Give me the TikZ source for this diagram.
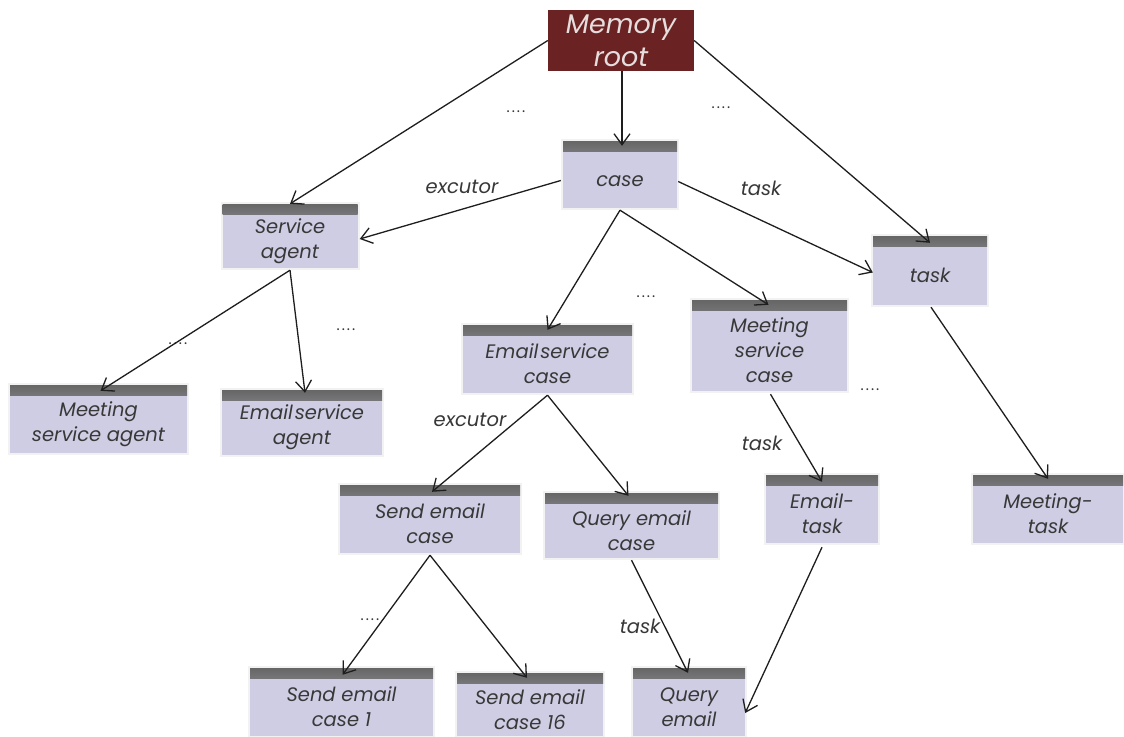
\documentclass[tikz,border=0pt]{standalone}
\usepackage{fontspec}
\setmainfont{Poppins}
\usetikzlibrary{arrows.meta,calc}
\definecolor{boxfill}{HTML}{CFCDE4}
\definecolor{rootfill}{HTML}{6B2222}
\definecolor{roottext}{HTML}{E6DEDE}
\definecolor{txt}{HTML}{383838}
\definecolor{ln}{HTML}{1E1E1E}
\newcommand\firstline{\rule{0pt}{25pt}}
\newcommand\fourdots{.\kern2pt.\kern2pt.\kern2pt.}
\begin{document}
\begin{tikzpicture}[x=1pt,y=-1pt,
  box/.style={rectangle, fill=boxfill, text=txt, align=center, inner sep=0pt,
    font=\itshape\fontsize{19.5}{25}\selectfont,
    preaction={draw=black!5, line width=4pt},
    path picture={\shade[top color=black!60, bottom color=boxfill]
      (path picture bounding box.north west) rectangle
      ([yshift=-10pt]path picture bounding box.north east);}},
  rootbox/.style={rectangle, fill=rootfill, text=roottext, align=center, inner sep=0pt,
    font=\itshape\fontsize{27}{33}\selectfont},
  lbl/.style={text=txt, font=\itshape\fontsize{19.5}{22}\selectfont, inner sep=0pt},
  dotlbl/.style={text=txt, font=\fontsize{15}{18}\selectfont, inner sep=0pt},
  arr/.style={draw=ln, line width=1.3pt, -{Straight Barb[length=11pt,width=16pt,line width=1.3pt]}}
]
\fill[white] (0,0) rectangle (1124,736);
\useasboundingbox (0,0) rectangle (1124,736);

% nodes
\node[rootbox, minimum width=146, minimum height=61] (root) at (621,40.5) {Memory\\root};
\node[box, minimum width=114, minimum height=67] (case) at (620,174.5) {\firstline case};
\node[box, minimum width=135, minimum height=64] (sa) at (290,236) {\firstline Service\\agent};
\node[box, minimum width=114, minimum height=69] (task) at (930,270.5) {\firstline task};
\node[box, minimum width=169, minimum height=68] (emc) at (547.5,359) {\firstline Email\kern0.1em service\\case};
\node[box, minimum width=155, minimum height=91] (msc) at (769.5,345.5) {\firstline Meeting\\service\\case};
\node[box, minimum width=177, minimum height=68] (msa) at (98.5,419) {\firstline Meeting\\service agent};
\node[box, minimum width=160, minimum height=65] (esa) at (302,422.5) {\firstline Email\kern0.1em service\\agent};
\node[box, minimum width=180, minimum height=68] (sec) at (430,519) {\firstline Send email\\case};
\node[box, minimum width=173, minimum height=65] (qec) at (631.5,525.5) {\firstline Query email\\case};
\node[box, minimum width=112, minimum height=68] (et) at (822,509) {\firstline Email-\\task};
\node[box, minimum width=150, minimum height=68] (mt) at (1048,509) {\firstline Meeting-\\task};
\node[box, minimum width=183, minimum height=68] (sec1) at (341.5,702) {\firstline Send email\\case 1};
\node[box, minimum width=146, minimum height=63] (sec16) at (530,704.5) {\firstline Send email\\case 16};
\node[box, minimum width=112, minimum height=68] (qe) at (689,702) {\firstline Query\\email};

% labels
\node[lbl] (l1) at (462,187) {excutor};
\node[lbl] (l2) at (761,188) {task};
\node[lbl] (l3) at (470,420) {excutor};
\node[lbl] (l4) at (762,443) {task};
\node[lbl] (l5) at (640,626) {task};
\node[dotlbl] (d1) at (516,112) {\fourdots};
\node[dotlbl] (d2) at (721,108) {\fourdots};
\node[dotlbl] (d3) at (178,344) {\fourdots};
\node[dotlbl] (d4) at (346,330) {\fourdots};
\node[dotlbl] (d5) at (646,297) {\fourdots};
\node[dotlbl] (d6) at (870,390) {\fourdots};
\node[dotlbl] (d7) at (370,620) {\fourdots};

% connectors
\draw[arr] (root.west) -- (sa.north);
\draw[arr] ($(root.south)+(1,0)$) -- ($(case.north)+(2,5)$);
\draw[arr] (root.east) -- ($(task.north)+(0,7)$);
\draw[arr] ($(case.west)+(-2,6)$) -- ($(sa.east)+(2,3)$);
\draw[arr] ($(case.east)+(1,7)$) -- ($(task.west)+(0,2)$);
\draw[arr] ($(case.south)+(0,2)$) -- ($(emc.north)+(0,5)$);
\draw[arr] ($(case.south)+(0,2)$) -- ($(msc.north)+(-1,5)$);
\draw[arr] ($(sa.south)+(0,2)$) -- ($(msa.north)+(2,6)$);
\draw[arr] ($(sa.south)+(0,2)$) -- ($(esa.north)+(3,3)$);
\draw[arr] ($(emc.south)+(0,2)$) -- ($(sec.north)+(2,7)$);
\draw[arr] ($(emc.south)+(0,2)$) -- ($(qec.north)+(-3,3)$);
\draw[arr] ($(msc.south)+(1,3)$) -- ($(et.north)+(0,7)$);
\draw[arr] ($(task.south)+(1,2)$) -- ($(mt.north)+(0,4)$);
\draw[arr] ($(sec.south)+(0,2)$) -- ($(sec1.north)+(1,7)$);
\draw[arr] ($(sec.south)+(0,2)$) -- ($(sec16.north)+(-3,5)$);
\draw[arr] ($(qec.south)+(0,2)$) -- ($(qe.north)+(-1,5)$);
\draw[arr] ($(et.south)+(0,4)$) -- ($(qe.east)+(0,11)$);
\end{tikzpicture}
\end{document}
